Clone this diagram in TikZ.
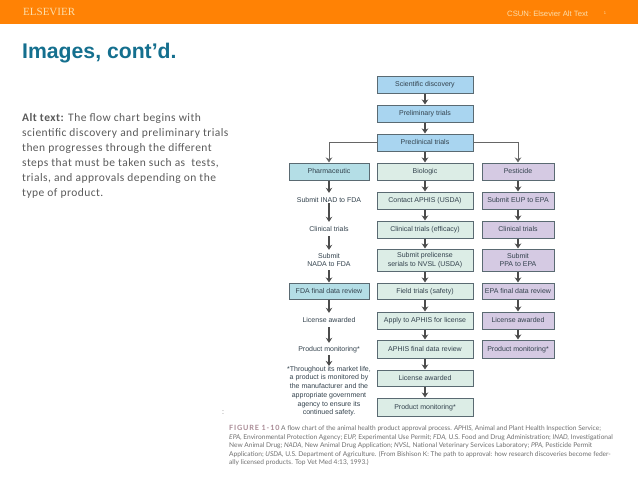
\documentclass[tikz,border=0pt]{standalone}
\usepackage{fontspec}
\usetikzlibrary{arrows.meta}
\setmainfont{Liberation Sans}
\newfontfamily\serifhead{Liberation Serif}
\newfontfamily\bodyfont[LetterSpace=4]{Carlito}
\newfontfamily\capfont{Lato}
\newfontfamily\capheadfont[LetterSpace=12]{Lato}

\definecolor{headorange}{HTML}{FF8205}
\definecolor{headtext}{HTML}{FBDDAA}
\definecolor{titleteal}{HTML}{146F8E}
\definecolor{bodygray}{HTML}{5A5A5A}
\definecolor{stepink}{HTML}{33424D}
\definecolor{stepline}{HTML}{5A6A72}
\definecolor{bluefill}{HTML}{A9D5F0}
\definecolor{tealfill}{HTML}{B4DEE6}
\definecolor{greenfill}{HTML}{DCEDE6}
\definecolor{purplefill}{HTML}{D5CAE3}
\definecolor{capgray}{HTML}{6E6E6E}
\definecolor{caphead}{HTML}{A88A94}

\tikzset{
    stepbox/.style={draw=stepline, line width=1pt, text=stepink, inner sep=0pt,
        align=center, font=\fontsize{7}{8.6}\selectfont, minimum height=17pt,
        text height=5pt, text depth=1pt},
    bluebox/.style={stepbox, fill=bluefill, minimum width=96pt},
    greenbox/.style={stepbox, fill=greenfill, minimum width=96pt},
    tealbox/.style={stepbox, fill=tealfill, minimum width=80pt},
    purplebox/.style={stepbox, fill=purplefill, minimum width=72pt},
    plainstep/.style={text=stepink, inner sep=0pt, align=center,
        font=\fontsize{7}{8.6}\selectfont, minimum height=14pt,
        text height=5pt, text depth=1pt},
    multiline/.style={text height=, text depth=},
    flowarrow/.style={-{Stealth[length=5pt,width=6.5pt]}, line width=1.1pt, draw=black!70},
    branchline/.style={flowarrow, line width=0.9pt, draw=black!60}
}

\begin{document}
\begin{tikzpicture}[x=1pt, y=-1pt]
    \useasboundingbox (0,0) rectangle (638,479);

    % slide header
    \fill[headorange] (0,0) rectangle (638,24);
    \node[anchor=west, inner sep=0pt, text=headtext, font=\serifhead\fontsize{11}{13}\selectfont] (publisher) at (23,12) {ELSEVIER};
    \node[anchor=west, inner sep=0pt, text=headtext, font=\fontsize{7.7}{9}\selectfont] (running) at (507,14) {CSUN: Elsevier Alt Text};
    \node[inner sep=0pt, text=headtext, font=\fontsize{4}{5}\selectfont] (pagemark) at (605,13) {1};

    \node[anchor=west, inner sep=0pt, text=titleteal, font=\bfseries\fontsize{21.2}{24}\selectfont] (title) at (22,53) {Images, cont’d.};

    \node[anchor=north west, inner sep=0pt, align=left, text=bodygray, font=\bodyfont\fontsize{11.5}{15}\selectfont] (alttext) at (22,113)
        {\textbf{Alt text:} The flow chart begins with\\
         scientific discovery and preliminary trials\\
         then progresses through the different\\
         steps that must be taken such as\ \ tests,\\
         trials, and approvals depending on the\\
         type of product.};

    % common trunk
    \node[bluebox] (scientific) at (425,84.5) {Scientific discovery};
    \node[bluebox] (preliminary) at (425,113.5) {Preliminary trials};
    \node[bluebox] (preclinical) at (425,142.5) {Preclinical trials};

    % pharmaceutic column
    \node[tealbox] (pharma) at (329,171.5) {Pharmaceutic};
    \node[plainstep] (inad) at (329,200) {Submit INAD to FDA};
    \node[plainstep] (pharmaclinical) at (329,229) {Clinical trials};
    \node[plainstep, multiline, minimum height=20pt] (nada) at (329,260) {Submit\\NADA to FDA};
    \node[tealbox, minimum height=16pt] (fdareview) at (329,291) {FDA final data review};
    \node[plainstep] (pharmalicense) at (329,320) {License awarded};
    \node[plainstep, minimum height=12pt] (pharmamonitor) at (329,349) {Product monitoring*};
    \node[plainstep, multiline, anchor=north, font=\fontsize{7}{8.7}\selectfont] (note) at (329,366)
        {*Throughout its market life,\\
         a product is monitored by\\
         the manufacturer and the\\
         appropriate government\\
         agency to ensure its\\
         continued safety.};

    % biologic column
    \node[greenbox] (biologic) at (425,171.5) {Biologic};
    \node[greenbox] (contact) at (425,200.5) {Contact APHIS (USDA)};
    \node[greenbox] (bioclinical) at (425,229.5) {Clinical trials (efficacy)};
    \node[greenbox, multiline, minimum height=22pt] (prelicense) at (425,260) {Submit prelicense\\serials to NVSL (USDA)};
    \node[greenbox, minimum height=16pt] (field) at (425,291) {Field trials (safety)};
    \node[greenbox] (apply) at (425,320.5) {Apply to APHIS for license};
    \node[greenbox, minimum height=18pt] (aphisreview) at (425,349) {APHIS final data review};
    \node[greenbox, minimum height=16pt] (biolicense) at (425,378) {License awarded};
    \node[greenbox, minimum height=18pt] (biomonitor) at (425,407) {Product monitoring*};

    % pesticide column
    \node[purplebox] (pesticide) at (518,171.5) {Pesticide};
    \node[purplebox] (eup) at (518,200.5) {Submit EUP to EPA};
    \node[purplebox] (pestclinical) at (518,229.5) {Clinical trials};
    \node[purplebox, multiline, minimum height=22pt] (ppa) at (518,260) {Submit\\PPA to EPA};
    \node[purplebox, minimum height=16pt] (epareview) at (518,291) {EPA final data review};
    \node[purplebox] (pestlicense) at (518,320.5) {License awarded};
    \node[purplebox, minimum height=18pt] (pestmonitor) at (518,349) {Product monitoring*};

    % arrows
    \draw[flowarrow] (scientific) -- (preliminary);
    \draw[flowarrow] (preliminary) -- (preclinical);
    \draw[branchline] (preclinical.west) -| (pharma.north);
    \draw[flowarrow] (preclinical) -- (biologic);
    \draw[branchline] (preclinical.east) -| (pesticide.north);

    \draw[flowarrow] (pharma) -- (inad);
    \draw[flowarrow, shorten <=-4pt] (inad) -- (pharmaclinical);
    \draw[flowarrow] (pharmaclinical) -- (nada);
    \draw[flowarrow] (nada) -- (fdareview);
    \draw[flowarrow] (fdareview) -- (pharmalicense);
    \draw[flowarrow] (pharmalicense) -- (pharmamonitor);
    \draw[flowarrow] (pharmamonitor) -- (note);

    \draw[flowarrow] (biologic) -- (contact);
    \draw[flowarrow] (contact) -- (bioclinical);
    \draw[flowarrow] (bioclinical) -- (prelicense);
    \draw[flowarrow] (prelicense) -- (field);
    \draw[flowarrow] (field) -- (apply);
    \draw[flowarrow] (apply) -- (aphisreview);
    \draw[flowarrow] (aphisreview) -- (biolicense);
    \draw[flowarrow] (biolicense) -- (biomonitor);

    \draw[flowarrow] (pesticide) -- (eup);
    \draw[flowarrow] (eup) -- (pestclinical);
    \draw[flowarrow] (pestclinical) -- (ppa);
    \draw[flowarrow] (ppa) -- (epareview);
    \draw[flowarrow] (epareview) -- (pestlicense);
    \draw[flowarrow] (pestlicense) -- (pestmonitor);

    % figure caption
    \node[inner sep=0pt, text=capgray, font=\fontsize{7}{8}\selectfont] (stray) at (223,413) {:};
    \node[anchor=north west, inner sep=0pt, align=left, text=capgray, font=\capfont\fontsize{6.6}{8.6}\selectfont] (caption) at (229,425)
        {{\capheadfont\bfseries\fontsize{7.2}{8.6}\selectfont\color{caphead}FIGURE 1-10} A flow chart of the animal health product approval process. \textit{APHIS,} Animal and Plant Health Inspection Service;\\
         \textit{EPA,} Environmental Protection Agency; \textit{EUP,} Experimental Use Permit; \textit{FDA,} U.S. Food and Drug Administration; \textit{INAD,} Investigational\\
         New Animal Drug; \textit{NADA,} New Animal Drug Application; \textit{NVSL,} National Veterinary Services Laboratory; \textit{PPA,} Pesticide Permit\\
         Application; \textit{USDA,} U.S. Department of Agriculture. (From Bishison K: The path to approval: how research discoveries become feder-\\
         ally licensed products. Top Vet Med 4:13, 1993.)};
\end{tikzpicture}
\end{document}
